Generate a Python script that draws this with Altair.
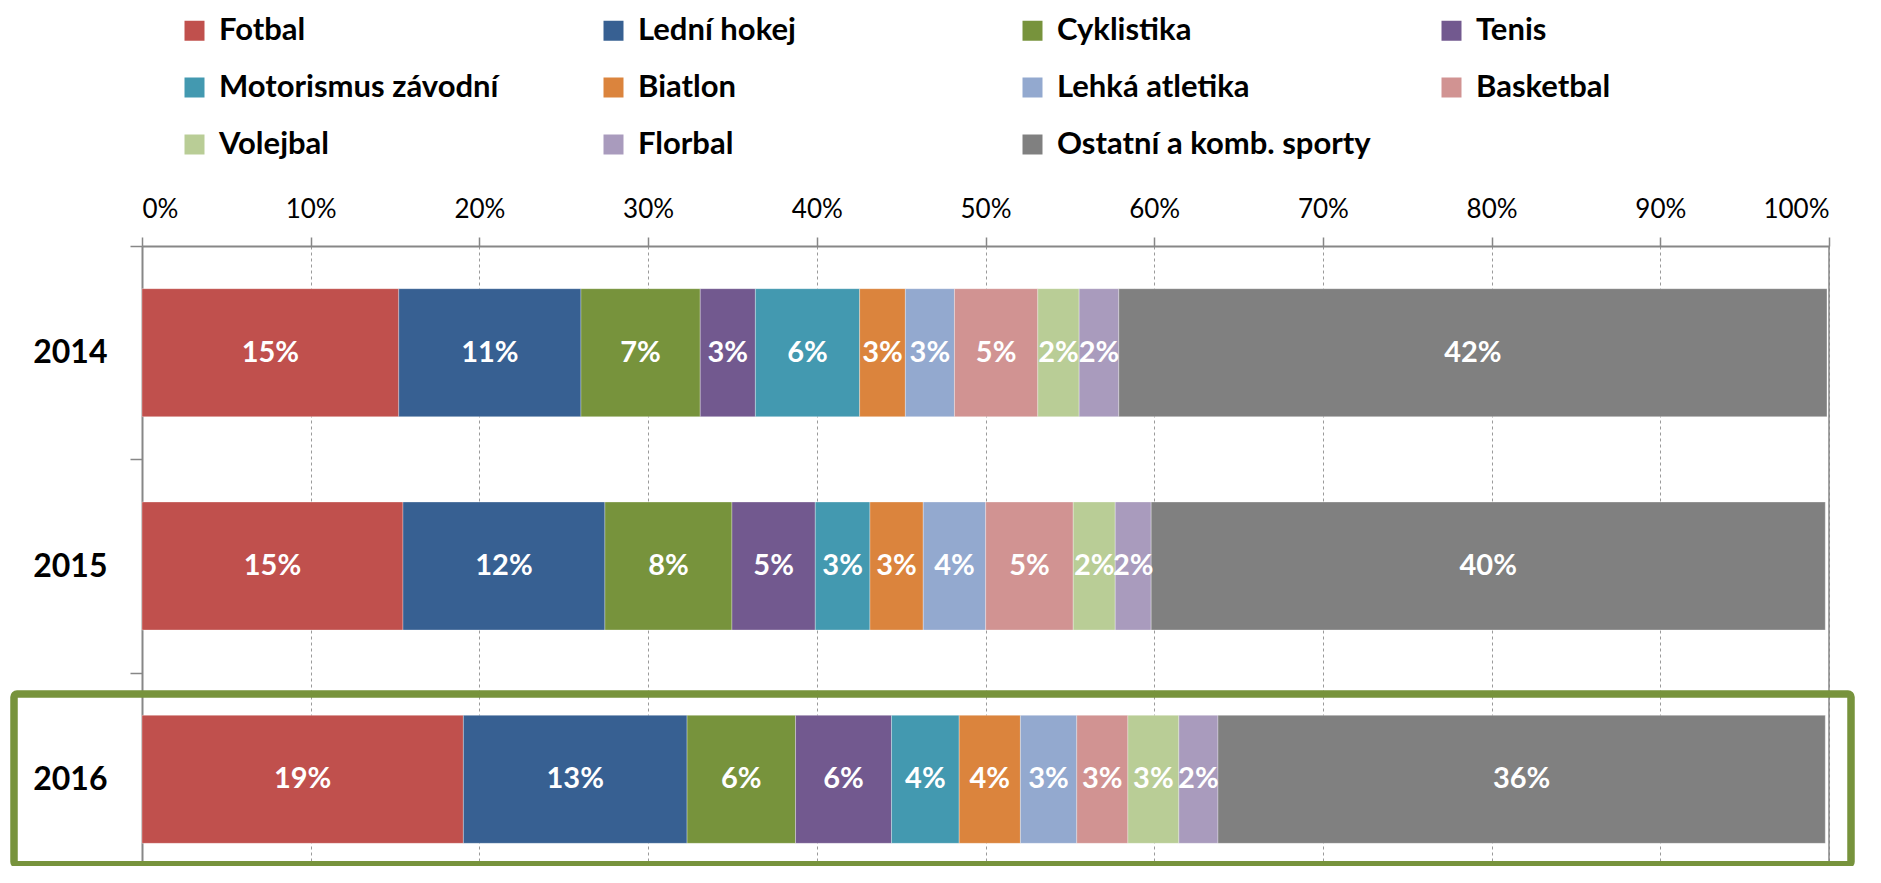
import altair as alt
import pandas as pd

years = ["2014", "2015", "2016"]
sports = ["Fotbal", "Lední hokej", "Cyklistika", "Tenis", "Motorismus závodní",
          "Biatlon", "Lehká atletika", "Basketbal", "Volejbal", "Florbal",
          "Ostatní a komb. sporty"]
colors = ["#C0504D", "#376092", "#77933C", "#72598F", "#4399B0", "#DB843D",
          "#93A9CF", "#D19392", "#B9CD96", "#A99BBD", "#808080"]

v2014 = [15.22, 10.80, 7.07, 3.27, 6.18, 2.71, 2.91, 4.94, 2.45, 2.35, 41.98]
v2015 = [15.47, 11.97, 7.53, 4.94, 3.24, 3.16, 3.70, 5.19, 2.49, 2.13, 39.96]
v2016 = [19.05, 13.26, 6.43, 5.69, 4.01, 3.63, 3.34, 3.03, 3.02, 2.32, 36.00]
xticks = [0, 10, 20, 30, 40, 50, 60, 70, 80, 90, 100]
highlight_year = ["2016"]

rows = []
for y, vals in zip(years, [v2014, v2015, v2016]):
    for i, (s, v) in enumerate(zip(sports, vals)):
        rows.append({"year": y, "sport": s, "order": i, "value": v})
df = pd.DataFrame(rows)

FONT = "Lato"
GRAY = "#878787"

xscale = alt.Scale(domain=[0, 100], nice=False)
yscale = alt.Scale(domain=years, range=[0, 640], paddingInner=0, paddingOuter=0)

base = alt.Chart(df).transform_stack(
    stack="value", groupby=["year"], as_=["v0", "v1"],
    sort=[alt.SortField("order", "ascending")]
).transform_calculate(
    mid="(datum.v0 + datum.v1) / 2",
    label="format(datum.value, '.0f') + '%'"
)

xaxis = alt.Axis(
    orient="top", values=xticks, labelExpr="datum.value + '%'",
    labelFont=FONT, labelFontSize=26, labelColor="#000000", labelPadding=15,
    tickSize=9, tickColor=GRAY, tickWidth=1.5,
    domainColor=GRAY, domainWidth=2,
    grid=True, gridDash=[3, 3], gridColor="#9a9a9a", gridWidth=1,
    title=None,
)
yaxis = alt.Axis(
    labelFont=FONT, labelFontSize=32, labelFontWeight="bold", labelColor="#000000",
    labelPadding=23, tickSize=12, tickColor=GRAY, tickWidth=1.5, tickBand="extent",
    domainColor=GRAY, domainWidth=2, grid=False, title=None,
)

bars = base.mark_bar(height=alt.RelativeBandSize(band=0.6), stroke="#ffffff",
                     strokeWidth=0.6, strokeOpacity=0.5).encode(
    x=alt.X("v0:Q", scale=xscale, axis=xaxis),
    x2="v1:Q",
    y=alt.Y("year:N", scale=yscale, axis=yaxis),
    color=alt.Color(
        "sport:N",
        scale=alt.Scale(domain=sports, range=colors),
        legend=alt.Legend(
            title=None, orient="none", legendX=37, legendY=-231,
            direction="horizontal", columns=4, gridAlign="all",
            symbolType="square", symbolSize=400, symbolStrokeWidth=0,
            labelFont=FONT, labelFontSize=31, labelFontWeight="bold",
            labelColor="#000000", labelOffset=9, labelLimit=700,
            rowPadding=25, columnPadding=65, padding=0,
        ),
    ),
)

texts = base.mark_text(font=FONT, fontSize=29, fontWeight="bold", color="#ffffff",
                       align="center", baseline="middle").encode(
    x=alt.X("mid:Q", scale=xscale),
    y=alt.Y("year:N", scale=yscale),
    text="label:N",
)

rule = alt.Chart(pd.DataFrame({"x": [100]})).mark_rule(color=GRAY, strokeWidth=1.5).encode(
    x=alt.X("x:Q", scale=xscale)
)

box = alt.Chart(pd.DataFrame({"year": highlight_year})).mark_rect(
    filled=False, stroke="#77933C", strokeWidth=7.5, cornerRadius=3,
    height=alt.RelativeBandSize(band=0.8)
).encode(
    y=alt.Y("year:N", scale=yscale),
    x=alt.value(-128),
    x2=alt.value(1709),
)

chart = alt.layer(rule, bars, texts, box).properties(
    width=1687, height=620,
    autosize=alt.AutoSizeParams(type="none"),
    padding={"left": 134, "top": 238, "right": 40, "bottom": 0},
).configure_view(stroke=None)

chart.save("out.html", embed_options={"renderer": "svg", "actions": False})
